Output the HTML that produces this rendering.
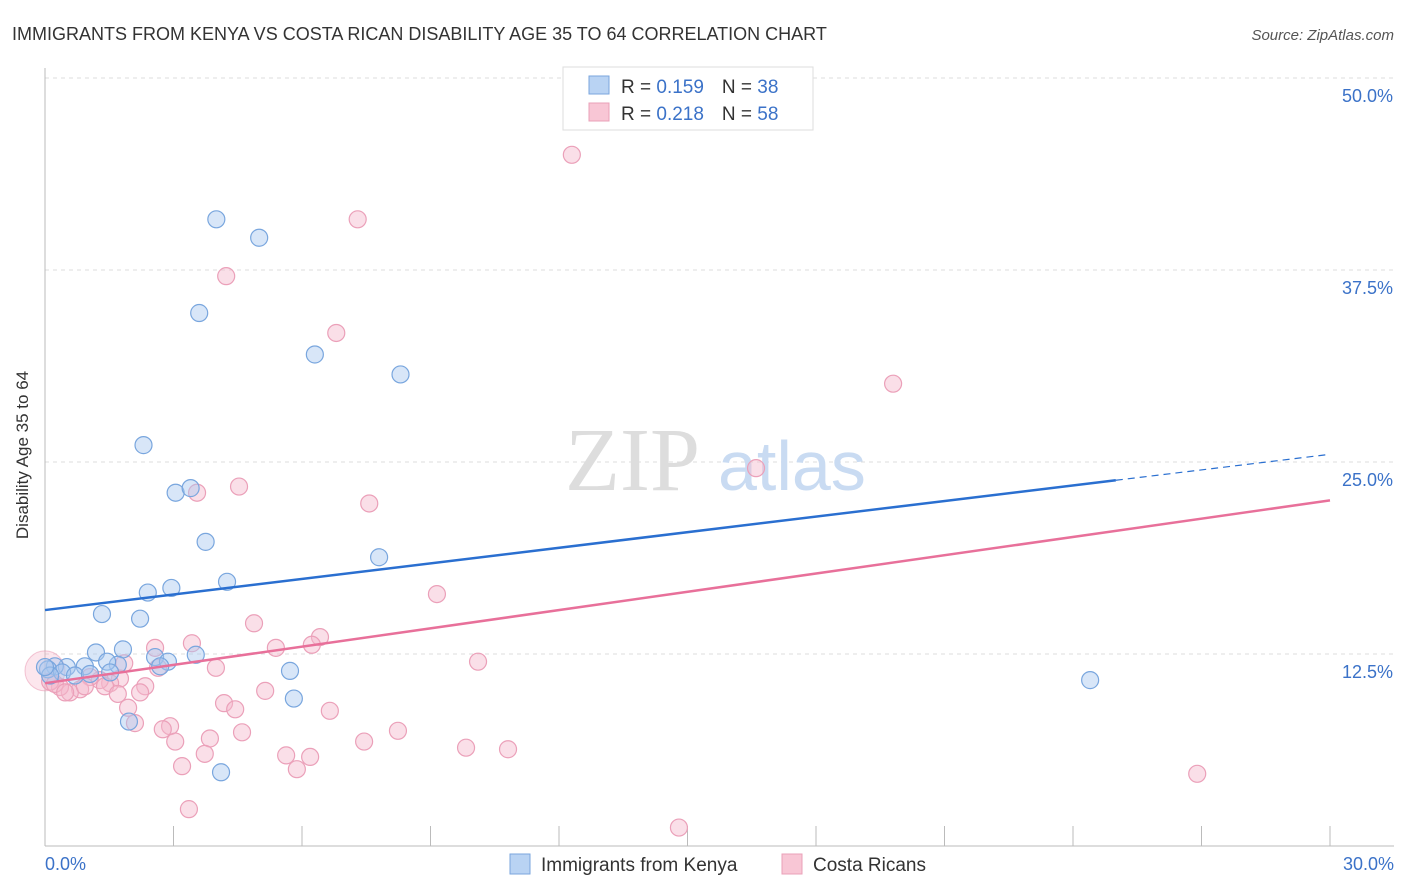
<!DOCTYPE html>
<html><head><meta charset="utf-8">
<style>
body{margin:0;background:#fff;font-family:"Liberation Sans",sans-serif;}
svg{display:block}
</style></head>
<body>
<svg width="1406" height="892" viewBox="0 0 1406 892">
<text x="12" y="40" font-size="18" fill="#333">IMMIGRANTS FROM KENYA VS COSTA RICAN DISABILITY AGE 35 TO 64 CORRELATION CHART</text>
<text x="1394" y="40" font-size="15" fill="#555" font-style="italic" text-anchor="end">Source: ZipAtlas.com</text>
<g id="grid"></g>
<text x="700" y="490" font-size="90" fill="#ddd" text-anchor="end" font-family="Liberation Serif,serif">ZIP</text>
<text x="718" y="490" font-size="70" fill="#c9dbf2">atlas</text>
<g id="marks"></g>
<text x="28" y="455" font-size="17" fill="#333" text-anchor="middle" transform="rotate(-90 28 455)">Disability Age 35 to 64</text>
<text x="45" y="870" font-size="18" fill="#3b72c8">0.0%</text>
<text x="1394" y="870" font-size="18" fill="#3b72c8" text-anchor="end">30.0%</text>
<g>
<rect x="563" y="67" width="250" height="63" fill="#fff" stroke="#ddd"/>
<rect x="589" y="76" width="20" height="18" fill="#b9d3f3" stroke="#7aa6de"/>
<rect x="589" y="103" width="20" height="18" fill="#f8c6d5" stroke="#eaa0b8"/>
<text x="621" y="93" font-size="19" fill="#333">R = <tspan fill="#3b72c8">0.159</tspan><tspan dx="18">N = </tspan><tspan fill="#3b72c8">38</tspan></text>
<text x="621" y="120" font-size="19" fill="#333">R = <tspan fill="#3b72c8">0.218</tspan><tspan dx="18">N = </tspan><tspan fill="#3b72c8">58</tspan></text>
</g>
<g>
<rect x="510" y="854" width="20" height="20" fill="#b9d3f3" stroke="#7aa6de"/>
<text x="541" y="871" font-size="19" fill="#333">Immigrants from Kenya</text>
<rect x="782" y="854" width="20" height="20" fill="#f8c6d5" stroke="#eaa0b8"/>
<text x="813" y="871" font-size="19" fill="#333">Costa Ricans</text>
</g>
</svg>
<script>
const yTicks=[12.5,25,37.5,50];
const yTickLabels=["12.5%","25.0%","37.5%","50.0%"];
const xTicks=[0,3,6,9,12,15,18,21,24,27,30];
const blueX=[4.0,5.0,3.6,6.3,8.3,2.3,3.05,3.4,3.75,7.8,4.25,2.95,2.4,1.33,2.22,1.82,1.19,2.57,2.87,3.52,2.69,1.7,1.45,0.93,0.51,0.23,0.07,0.4,0.7,1.52,5.72,5.81,1.96,4.11,24.4,0.12,1.05,0.0];
const blueY=[40.8,39.6,34.7,32.0,30.7,26.1,23.0,23.3,19.8,18.8,17.2,16.8,16.5,15.1,14.8,12.8,12.6,12.3,12.0,12.45,11.7,11.8,12.0,11.7,11.65,11.7,11.5,11.3,11.1,11.3,11.4,9.6,8.1,4.8,10.8,11.1,11.2,11.65];
const pinkX=[12.3,7.3,4.23,6.8,19.8,16.6,4.53,3.55,7.57,9.15,4.88,6.42,6.23,5.39,3.43,2.57,10.11,3.99,2.64,1.85,1.75,1.52,1.28,1.05,1.4,0.82,0.58,0.35,0.12,2.34,2.22,1.7,5.14,4.18,4.44,6.65,1.94,2.1,2.92,2.75,3.85,4.6,8.24,3.04,7.45,9.83,10.81,3.73,5.63,6.19,3.2,5.88,3.36,14.8,26.9,0.23,0.47,0.93];
const pinkY=[45.0,40.8,37.1,33.4,30.1,24.6,23.4,23.0,22.3,16.4,14.5,13.6,13.1,12.9,13.2,12.9,12.0,11.6,11.6,11.9,10.9,10.6,10.8,11.0,10.4,10.2,10.0,10.35,10.7,10.4,10.0,9.9,10.1,9.3,8.9,8.8,9.0,8.0,7.8,7.6,7.0,7.4,7.5,6.8,6.8,6.4,6.3,6.0,5.9,5.8,5.2,5.0,2.4,1.2,4.7,10.55,10.0,10.4];
const blueLine=[15.36,25.5], pinkLine=[10.6,22.5];
const NS='http://www.w3.org/2000/svg';
const X=v=>45+v*(1285/30), Y=v=>846-v*15.36;
function mk(t,a,p){const e=document.createElementNS(NS,t);for(const k in a)e.setAttribute(k,a[k]);p.appendChild(e);return e;}
const grid=document.getElementById('grid'), marks=document.getElementById('marks');
yTicks.forEach((t,i)=>{
 const l=mk('line',{x1:45,x2:1394,y1:Y(t),y2:Y(t),stroke:'#ddd','stroke-dasharray':'4,4'},grid);
 
 
 const tx=mk('text',{x:1393,y:Y(t)+24,'font-size':18,fill:'#3b72c8','text-anchor':'end'},grid);
 tx.textContent=yTickLabels[i];
 
 
});
const ax=mk('line',{x1:45,x2:1394,y1:846,y2:846,stroke:'#bbb'},grid);


const ay=mk('line',{x1:45,x2:45,y1:68,y2:846,stroke:'#bbb'},grid);


xTicks.forEach(t=>{
 const l=mk('line',{x1:X(t),x2:X(t),y1:826,y2:846,stroke:'#bbb'},grid);
 
 
});
const big=mk('circle',{cx:X(0),cy:Y(11.4),r:20,fill:'rgba(245,184,203,0.35)',stroke:'rgba(232,144,171,0.5)'},marks);


pinkX.forEach((x,i)=>{
 const c=mk('circle',{cx:X(x),cy:Y(pinkY[i]),r:8.5,fill:'rgba(245,184,203,0.45)',stroke:'#eba0b9','stroke-width':1.2},marks);
 
 
});
blueX.forEach((x,i)=>{
 const c=mk('circle',{cx:X(x),cy:Y(blueY[i]),r:8.5,fill:'rgba(169,200,240,0.45)',stroke:'#79a6de','stroke-width':1.2},marks);
 
 
});
const bx=25;
const by=blueLine[0]+(blueLine[1]-blueLine[0])*bx/30;
const bl=mk('line',{x1:X(0),y1:Y(blueLine[0]),x2:X(bx),y2:Y(by),stroke:'#2a6fd0','stroke-width':2.5},marks);


const bd=mk('line',{x1:X(bx),y1:Y(by),x2:X(30),y2:Y(blueLine[1]),stroke:'#2a6fd0','stroke-width':1.2,'stroke-dasharray':'7,5'},marks);


const pl=mk('line',{x1:X(0),y1:Y(pinkLine[0]),x2:X(30),y2:Y(pinkLine[1]),stroke:'#e8709a','stroke-width':2.5},marks);


</script>
</body></html>
